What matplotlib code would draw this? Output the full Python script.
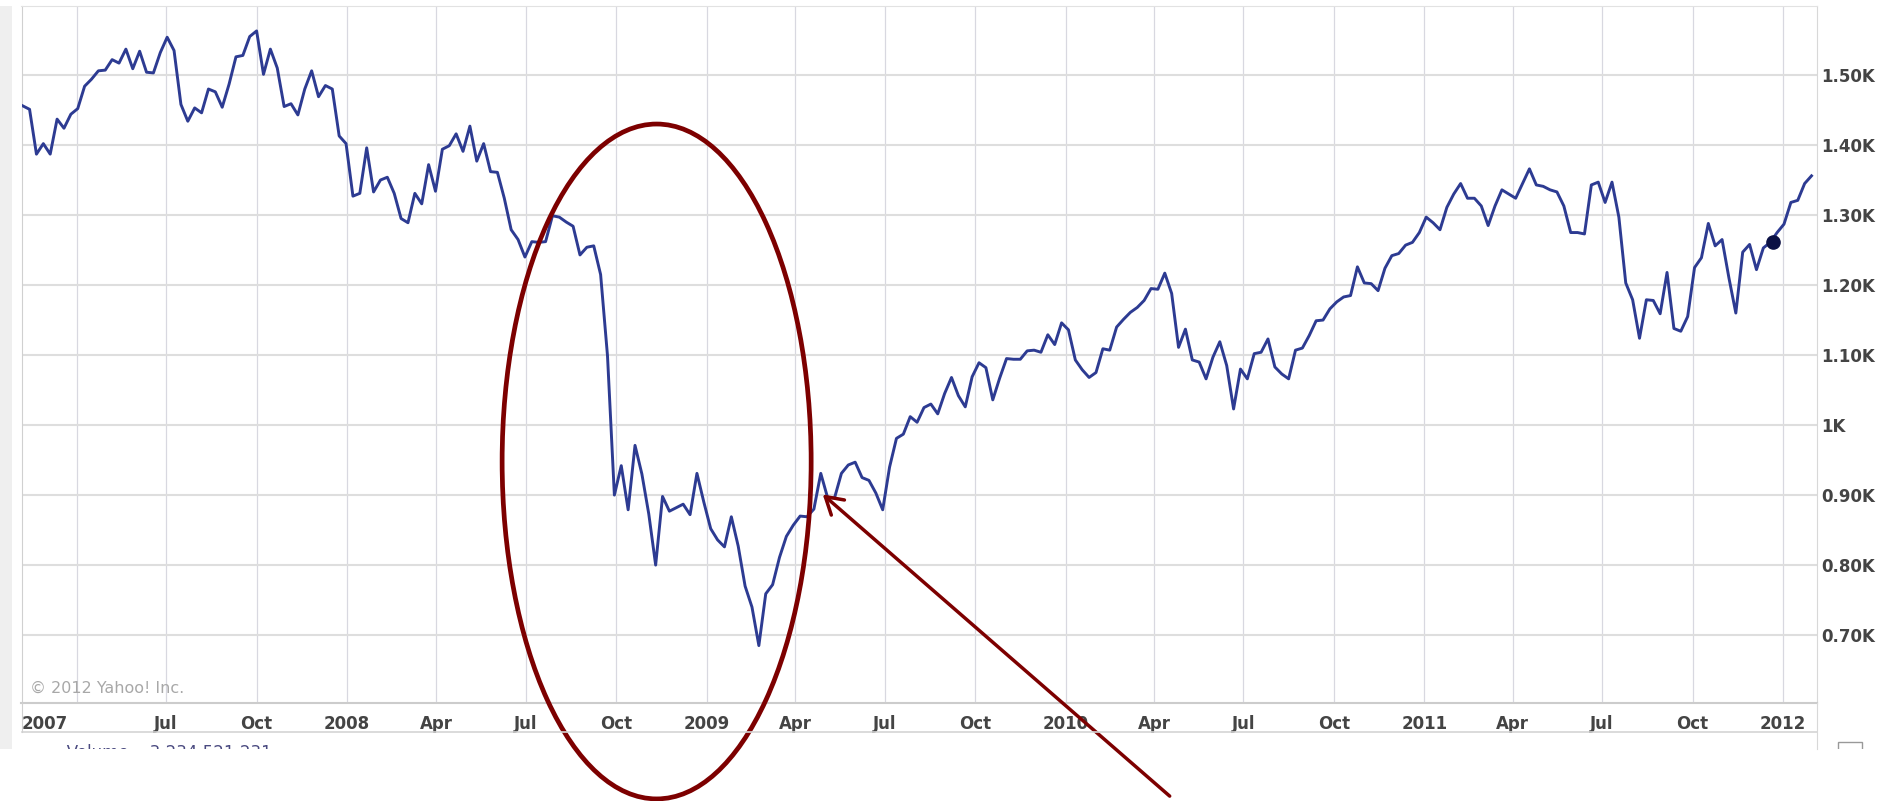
import pandas as pd
import matplotlib
matplotlib.use('Agg')
import matplotlib.pyplot as plt
import matplotlib.dates as mdates
from matplotlib.patches import Ellipse, Rectangle
from matplotlib.lines import Line2D
from matplotlib.transforms import Bbox, TransformedBbox

# weekly closing values, one point per week (first point plotted at 2007-02-05)
close_2007 = [1456, 1451, 1387, 1402, 1387, 1437, 1424, 1444, 1452, 1484, 1494, 1506,
              1507, 1522, 1517, 1537, 1509, 1534, 1504, 1503, 1532, 1554, 1535, 1458,
              1434, 1453, 1446, 1480, 1476, 1454, 1487, 1526, 1528, 1555, 1563, 1501,
              1537, 1510, 1455, 1459, 1443, 1480, 1506, 1469, 1485, 1480, 1413]
close_2008 = [1402, 1327, 1331, 1396, 1333, 1350, 1354, 1331, 1295, 1289, 1331, 1316,
              1372, 1334, 1394, 1399, 1416, 1391, 1427, 1377, 1402, 1362, 1361, 1324,
              1279, 1265, 1240, 1262, 1261, 1262, 1299, 1297, 1290, 1284, 1243, 1254,
              1256, 1215, 1099, 900, 942, 879, 971, 930, 873, 800, 898, 877, 882,
              887, 872, 931]
close_2009 = [890, 852, 836, 826, 869, 827, 770, 740, 685, 759, 772, 811,
              841, 857, 870, 869, 880, 931, 896, 896, 931, 943, 947, 925,
              921, 903, 879, 940, 981, 987, 1012, 1004, 1025, 1030, 1016, 1045,
              1068, 1042, 1026, 1069, 1089, 1082, 1036, 1067, 1095, 1094, 1094, 1106,
              1107, 1104, 1129, 1115]
close_2010 = [1146, 1136, 1093, 1079, 1068, 1075, 1109, 1107, 1140, 1151, 1161, 1168,
              1178, 1195, 1194, 1217, 1188, 1111, 1137, 1093, 1090, 1066, 1097, 1119,
              1085, 1023, 1080, 1066, 1102, 1104, 1123, 1083, 1073, 1066, 1107, 1110,
              1128, 1149, 1150, 1166, 1176, 1183, 1185, 1226, 1203, 1202, 1192, 1224,
              1242, 1245, 1257, 1261]
close_2011 = [1275, 1297, 1289, 1279, 1311, 1330, 1345, 1324, 1324, 1313, 1285, 1313,
              1336, 1330, 1324, 1345, 1366, 1343, 1341, 1336, 1333, 1313, 1275, 1275,
              1273, 1343, 1347, 1318, 1347, 1297, 1203, 1179, 1124, 1179, 1178, 1159,
              1218, 1138, 1134, 1155, 1225, 1239, 1288, 1256, 1265, 1210, 1160, 1247,
              1258, 1222, 1253, 1261]
close_2012 = [1275, 1287, 1318, 1321, 1345, 1356]

close = close_2007 + close_2008 + close_2009 + close_2010 + close_2011 + close_2012
dates = pd.date_range('2007-02-05', periods=len(close), freq='7D')

marker_date = pd.Timestamp('2011-12-22')
marker_value = 1261

y_ticks = [700, 800, 900, 1000, 1100, 1200, 1300, 1400, 1500]
y_labels = ['0.70K', '0.80K', '0.90K', '1K', '1.10K', '1.20K', '1.30K', '1.40K', '1.50K']
grid_dates = pd.date_range('2007-04-01', '2012-01-01', freq='QS')
x_labels = ['', 'Jul', 'Oct', '2008', 'Apr', 'Jul', 'Oct', '2009', 'Apr', 'Jul', 'Oct',
            '2010', 'Apr', 'Jul', 'Oct', '2011', 'Apr', 'Jul', 'Oct', '2012']
x_start = pd.Timestamp('2007-02-03 19:00')
x_end = pd.Timestamp('2012-02-04 14:00')

W, H = 1892, 801
line_color = '#2d3b92'
red = '#7d0000'
label_color = '#444444'

fig = plt.figure(figsize=(W / 100, H / 100), dpi=100)
fig.patch.set_facecolor('white')
ax = fig.add_axes([21.5 / W, 1 - 703 / H, (1817 - 21.5) / W, (703 - 6) / H])

ax.plot(dates, close, color=line_color, lw=2.1, zorder=3)
ax.plot([marker_date], [marker_value], 'o', color='#0b1145', ms=9.5, zorder=4)

ax.set_xlim(x_start, x_end)
ax.set_ylim(603, 1598.6)

# grid
ax.set_xticks([x_start] + list(grid_dates), ['2007'] + x_labels)
ax.set_yticks(y_ticks, y_labels)
ax.yaxis.tick_right()
ax.grid(axis='x', color='#d8d8e0', lw=0.9)
ax.grid(axis='y', color='#dedede', lw=1.5)
ax.set_axisbelow(True)
ax.tick_params(axis='x', length=0, pad=8.3, labelsize=12, labelcolor=label_color)
ax.tick_params(axis='y', length=0, pad=3, labelsize=12, labelcolor=label_color)
for t in ax.get_xticklabels() + ax.get_yticklabels():
    t.set_fontweight('bold')
ax.get_xticklabels()[0].set_ha('left')

for side, c in [('top', '#e2e2e2'), ('left', '#d0d0d0'), ('right', '#d8d8d8'), ('bottom', '#cccccc')]:
    ax.spines[side].set_color(c)
ax.spines['bottom'].set_linewidth(1.5)

# chart frame below the plot
fig.add_artist(Line2D([21.5 / W, 1817 / W], [1 - 732 / H, 1 - 732 / H], color='#d4d4d4', lw=1.2))
fig.add_artist(Line2D([1817 / W, 1817 / W], [1 - 749 / H, 1 - 703 / H], color='#d8d8d8', lw=0.8))
fig.add_artist(Line2D([21.5 / W, 21.5 / W], [1 - 732 / H, 1 - 703 / H], color='#d0d0d0', lw=0.8))
fig.add_artist(Rectangle((0, 1 - 749 / H), 12 / W, 743 / H, transform=fig.transFigure,
                         facecolor='#efefef', edgecolor='none'))

fig.text(30 / W, 1 - 688 / H, '\u00a9 2012 Yahoo! Inc.', fontsize=11.5, color='#a8a8a8',
         ha='left', va='center')

# partly visible volume row, cut off by the screenshot edge
clip = TransformedBbox(Bbox.from_extents(0, 1 - 749 / H, 1, 1 - 735 / H), fig.transFigure)
vol = fig.text(30 / W, 1 - 744 / H, '\u25ac\u25ac Volume    3,234,521,231', fontsize=12,
               color='#4a4a80', ha='left', va='top')
vol.set_clip_box(clip)
vol.set_clip_on(True)
icon = Rectangle((1838 / W, 1 - 760 / H), 24 / W, 18 / H, transform=fig.transFigure,
                 facecolor='white', edgecolor='#999999', lw=1)
icon.set_clip_box(clip)
icon.set_clip_on(True)
fig.add_artist(icon)

# hand-drawn style annotations
ell = Ellipse((mdates.date2num(pd.Timestamp('2008-11-11')), 948), width=314.4, height=964,
              fill=False, edgecolor=red, lw=3.4, clip_on=False, zorder=6)
ax.add_patch(ell)
ax.annotate('', xy=(pd.Timestamp('2009-04-29'), 901), xytext=(pd.Timestamp('2010-04-17'), 470),
            arrowprops=dict(arrowstyle='->,head_length=1.0,head_width=0.6', color=red, lw=2.5,
                            mutation_scale=12, shrinkA=0, shrinkB=0),
            annotation_clip=False, zorder=6)

fig.savefig('out.png', dpi=100)
